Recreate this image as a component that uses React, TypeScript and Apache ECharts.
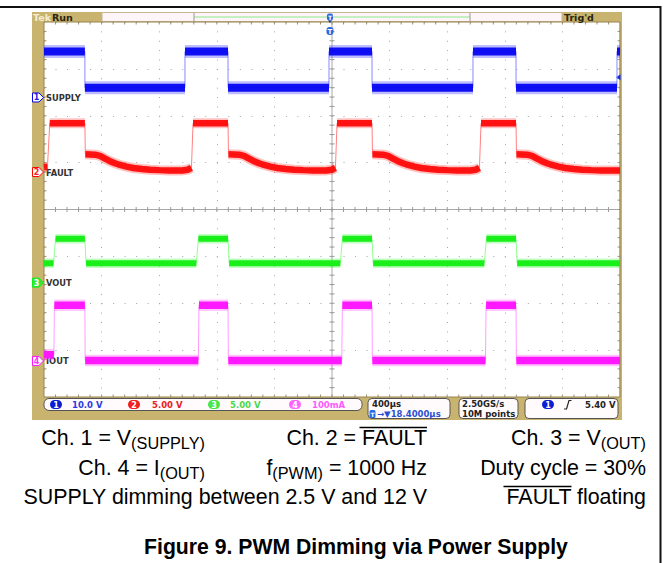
import React, { useEffect, useRef } from "react";
import * as echarts from "echarts";

// ---------- acquisition / screen settings ----------
const SCREEN_TIME_US = [0, 4000]; // 10 div x 400 µs
const TIME_DIV_US = 400;
const SCREEN_DIVS = [0, 8];
const CH_NAMES = ["SUPPLY", "FAULT", "VOUT", "IOUT"];
const CH_SCALE = [10, 5, 5, 100]; // V/div, V/div, V/div, mA/div
const CH_ZERO_DIV = [6.39, 4.8, 2.44, 0.77]; // ground markers (div from bottom)
const CH_SCALE_LABELS = ["10.0 V", "5.00 V", "5.00 V", "100mA"];
const TRIGGER_TIME_US = 1986;
const TRIGGER_MARK_V = 4.3;

// ---------- traces (time from left edge in µs) ----------
const supplyTimeUs = [0, 284, 284, 979, 979, 1278, 1278, 1979, 1979, 2278, 2278, 2979, 2979, 3278, 3278, 3979, 3979, 4000];
const supplyVolts = [9.8, 9.8, 2.1, 2.1, 9.8, 9.8, 2.1, 2.1, 9.8, 9.8, 2.1, 2.1, 9.8, 9.8, 2.1, 2.1, 9.8, 9.8];

const faultTimeUs = [
  0, 24, 40, 284, 287, 354, 389, 424, 458, 493, 528, 573, 620, 680, 736, 800, 870, 960, 1000, 1015, 1024, 1035,
  1278, 1281, 1354, 1389, 1424, 1458, 1493, 1528, 1573, 1620, 1680, 1736, 1800, 1870, 1960, 2000, 2015, 2024, 2035,
  2278, 2281, 2354, 2389, 2424, 2458, 2493, 2528, 2573, 2620, 2680, 2736, 2800, 2870, 2960, 3000, 3015, 3024, 3035,
  3278, 3281, 3354, 3389, 3424, 3458, 3493, 3528, 3573, 3620, 3680, 3736, 3800, 3870, 4000,
];
const faultVolts = [
  0.5, 0.55, 5.2, 5.2, 1.9, 1.85, 1.72, 1.42, 1.15, 0.93, 0.75, 0.57, 0.43, 0.32, 0.25, 0.2, 0.17, 0.17, 0.25, 0.38, 0.45, 5.2,
  5.2, 1.9, 1.85, 1.72, 1.42, 1.15, 0.93, 0.75, 0.57, 0.43, 0.32, 0.25, 0.2, 0.17, 0.17, 0.25, 0.38, 0.45, 5.2,
  5.2, 1.9, 1.85, 1.72, 1.42, 1.15, 0.93, 0.75, 0.57, 0.43, 0.32, 0.25, 0.2, 0.17, 0.17, 0.25, 0.38, 0.45, 5.2,
  5.2, 1.9, 1.85, 1.72, 1.42, 1.15, 0.93, 0.75, 0.57, 0.43, 0.32, 0.25, 0.2, 0.17, 0.17,
];

const voutTimeUs = [0, 66, 80, 284, 292, 1058, 1072, 1278, 1286, 2058, 2072, 2278, 2286, 3058, 3072, 3278, 3286, 4000];
const voutVolts = [2.07, 2.07, 4.68, 4.68, 2.07, 2.07, 4.68, 4.68, 2.07, 2.07, 4.68, 4.68, 2.07, 2.07, 4.68, 4.68, 2.07, 2.07];

const ioutTimeUs = [0, 69, 72, 284, 286, 1072, 1076, 1278, 1280, 2068, 2072, 2278, 2280, 3066, 3070, 3278, 3280, 4000];
const ioutMilliamps = [13, 13, 119, 119, 1, 1, 119, 119, 1, 1, 119, 119, 1, 1, 119, 119, 1, 1];

// ---------- styles ----------
const GRID = { left: 44, top: 22, width: 576, height: 375 };
const CH_STYLE = [
  { core: "#0505f2", fringe: "#4646ff", edge: "#8a8aff", coreW: 8, fringeW: 13, marker: "#ffffff", markerText: "#2020e0" },
  { core: "#ff0808", fringe: "#ff4a4a", edge: "#ff8080", coreW: 6.5, fringeW: 10, marker: "#ffffff", markerText: "#ff2020" },
  { core: "#12ee12", fringe: "#4cff4c", edge: "#90ff90", coreW: 6, fringeW: 9.5, marker: "#3ee03e", markerText: "#ffffff" },
  { core: "#ff10ff", fringe: "#ff5cff", edge: "#ff9cff", coreW: 7.5, fringeW: 11.5, marker: "#ffffff", markerText: "#ff30ff" },
];
const BADGE = ["#0a1ed2", "#f01e1e", "#46e646", "#ff64ff"];
const BADGE_TEXT = ["#2a3adf", "#e82020", "#4ad84a", "#ff5cff"];
const TAN = "#c8b46e";
const CAP_FONT = "'Liberation Sans', Arial, sans-serif";
const CAP_SIZE = 21.4;
const SCOPE_FONT = "'DejaVu Sans', sans-serif";

const PX_PER_US = GRID.width / (SCREEN_TIME_US[1] - SCREEN_TIME_US[0]);
const PX_PER_DIV = GRID.height / (SCREEN_DIVS[1] - SCREEN_DIVS[0]);

function toDivs(values: number[], ch: number) {
  return values.map((v) => CH_ZERO_DIV[ch] + v / CH_SCALE[ch]);
}
function fullPath(times: number[], divs: number[]) {
  return times.map((t, i) => [t, divs[i]]);
}
function bandPath(times: number[], divs: number[]) {
  const out: any[] = [];
  for (let i = 0; i < times.length; i++) {
    if (i > 0) {
      const dx = (times[i] - times[i - 1]) * PX_PER_US;
      const dy = Math.abs(divs[i] - divs[i - 1]) * PX_PER_DIV;
      if (dy > 2 * dx + 3) out.push([times[i], null]);
    }
    out.push([times[i], divs[i]]);
  }
  return out;
}

const TRACES = [
  { t: supplyTimeUs, v: supplyVolts },
  { t: faultTimeUs, v: faultVolts },
  { t: voutTimeUs, v: voutVolts },
  { t: ioutTimeUs, v: ioutMilliamps },
];

function graticule(params: any, api: any) {
  const [xl, yb] = api.coord([SCREEN_TIME_US[0], SCREEN_DIVS[0]]);
  const [xr, yt] = api.coord([SCREEN_TIME_US[1], SCREEN_DIVS[1]]);
  const [xc, yc] = api.coord([
    (SCREEN_TIME_US[0] + SCREEN_TIME_US[1]) / 2,
    (SCREEN_DIVS[0] + SCREEN_DIVS[1]) / 2,
  ]);
  const nx = ((SCREEN_TIME_US[1] - SCREEN_TIME_US[0]) / TIME_DIV_US) * 5;
  const ny = (SCREEN_DIVS[1] - SCREEN_DIVS[0]) * 5;
  const sx = (xr - xl) / nx;
  const sy = (yb - yt) / ny;
  const children: any[] = [];
  const L = (x1: number, y1: number, x2: number, y2: number, stroke: string, w = 1) =>
    children.push({ type: "line", shape: { x1, y1, x2, y2 }, style: { stroke, lineWidth: w } });
  L(xl, yc, xr, yc, "#a8a8a8");
  L(xc, yt, xc, yb, "#a8a8a8");
  for (let i = 1; i < nx; i++) {
    const x = xl + i * sx;
    L(x, yc - 2.5, x, yc + 2.5, "#9a9a9a");
    L(x, yt, x, yt + 2.5, "#a09070");
    L(x, yb - 2.5, x, yb, "#a09070");
  }
  for (let j = 1; j < ny; j++) {
    const y = yt + j * sy;
    L(xc - 2.5, y, xc + 2.5, y, "#9a9a9a");
    L(xl, y, xl + 2.5, y, "#a09070");
    L(xr - 2.5, y, xr, y, "#a09070");
  }
  children.push({ type: "rect", shape: { x: xl, y: yt, width: xr - xl, height: yb - yt }, style: { fill: "none", stroke: "#9a8450", lineWidth: 1 } });
  CH_NAMES.forEach((name, k) => {
    const y = api.coord([0, CH_ZERO_DIV[k]])[1];
    children.push({
      type: "polygon",
      shape: { points: [[xl - 11.5, y - 4.5], [xl - 5, y - 4.5], [xl - 0.5, y], [xl - 5, y + 4.5], [xl - 11.5, y + 4.5]] },
      style: { fill: CH_STYLE[k].marker, stroke: CH_STYLE[k].core, lineWidth: 1 },
    });
    children.push({
      type: "text",
      style: { text: String(k + 1), x: xl - 7.5, y: y + 0.5, fill: CH_STYLE[k].markerText, font: `bold 8px ${SCOPE_FONT}`, align: "center", verticalAlign: "middle" },
    });
    children.push({
      type: "text",
      style: { text: name, x: xl + 2, y: y + 0.5, fill: "#333333", font: `bold 8.3px ${SCOPE_FONT}`, align: "left", verticalAlign: "middle" },
    });
  });
  const tx = api.coord([TRIGGER_TIME_US, 0])[0];
  children.push({ type: "rect", shape: { x: tx - 3, y: yt - 8.5, width: 6, height: 7, r: 2 }, style: { fill: "#2a6ae0" } });
  children.push({ type: "polygon", shape: { points: [[tx - 2, yt - 1.5], [tx + 2, yt - 1.5], [tx, yt + 1]] }, style: { fill: "#1a3a90" } });
  children.push({ type: "rect", shape: { x: tx - 3.5, y: yt + 5, width: 7, height: 8, r: 3 }, style: { fill: "#2a6ae0" } });
  children.push({ type: "text", style: { text: "T", x: tx, y: yt + 9.5, fill: "#ffffff", font: `bold 7px ${SCOPE_FONT}`, align: "center", verticalAlign: "middle" } });
  children.push({ type: "text", style: { text: "T", x: tx, y: yt - 4.8, fill: "#ffffff", font: `bold 6px ${SCOPE_FONT}`, align: "center", verticalAlign: "middle" } });
  const ty = api.coord([0, CH_ZERO_DIV[0] + TRIGGER_MARK_V / CH_SCALE[0]])[1];
  children.push({ type: "polygon", shape: { points: [[xr - 4, ty], [xr + 0.5, ty - 3], [xr + 0.5, ty + 3]] }, style: { fill: "#1030e0" } });
  return { type: "group", children };
}

function buildOption() {
  const series: any[] = [
    {
      type: "custom",
      coordinateSystem: "cartesian2d",
      renderItem: graticule,
      data: [[0, 0]],
      silent: true,
      z: 1,
      clip: false,
    },
  ];
  TRACES.forEach((tr, k) => {
    const divs = toDivs(tr.v, k);
    const st = CH_STYLE[k];
    series.push({
      type: "line",
      data: fullPath(tr.t, divs),
      showSymbol: false,
      silent: true,
      z: 2,
      lineStyle: { color: st.edge, width: 1 },
    });
    series.push({
      type: "line",
      data: bandPath(tr.t, divs),
      showSymbol: false,
      silent: true,
      connectNulls: false,
      z: 3,
      lineStyle: { color: st.fringe, width: st.fringeW, opacity: 0.35, cap: "butt", join: "round" },
    });
    series.push({
      type: "line",
      data: bandPath(tr.t, divs),
      showSymbol: false,
      silent: true,
      connectNulls: false,
      z: 4,
      lineStyle: { color: st.core, width: st.coreW, opacity: 0.95, cap: "butt", join: "round" },
    });
  });

  const rich = {
    a: { fontSize: CAP_SIZE, fontFamily: CAP_FONT, fill: "#000000", lineHeight: 26, verticalAlign: "middle" },
    s: { fontSize: 16.3, fontFamily: CAP_FONT, fill: "#000000", lineHeight: 14, verticalAlign: "bottom" },
  };
  const cap = (text: string, x: number, y: number, align = "right") => ({
    type: "text",
    x,
    y,
    z: 10,
    style: { text, rich, align, verticalAlign: "middle", font: `${CAP_SIZE}px ${CAP_FONT}`, fill: "#000" },
  });
  const sText = (text: string, x: number, y: number, fill = "#222222", size = 8.5, bold = true) => ({
    type: "text",
    x,
    y,
    z: 12,
    style: { text, fill, font: `${bold ? "bold " : ""}${size}px ${SCOPE_FONT}`, align: "left", verticalAlign: "middle" },
  });
  const badge = (cx: number, cy: number, k: number, label: string) => [
    { type: "rect", z: 12, shape: { x: cx - 6, y: cy - 4.5, width: 12, height: 9, r: 4.5 }, style: { fill: BADGE[k] } },
    { type: "text", z: 13, x: cx, y: cy + 0.5, style: { text: label, fill: "#ffffff", font: `bold 8px ${SCOPE_FONT}`, align: "center", verticalAlign: "middle" } },
  ];

  const graphic: any[] = [
    { type: "line", z: 20, shape: { x1: 0, y1: 7, x2: 661, y2: 7 }, style: { stroke: "#111", lineWidth: 2 } },
    { type: "line", z: 20, shape: { x1: 660.5, y1: 6, x2: 660.5, y2: 563 }, style: { stroke: "#111", lineWidth: 2 } },
    { type: "rect", z: 0, shape: { x: 32, y: 12, width: 12, height: 408 }, style: { fill: TAN } },
    { type: "rect", z: 0, shape: { x: 619.5, y: 12, width: 2.5, height: 408 }, style: { fill: TAN } },
    { type: "rect", z: 0, shape: { x: 32, y: 397, width: 590, height: 23 }, style: { fill: TAN } },
    { type: "rect", z: 0, shape: { x: 32, y: 12, width: 70, height: 10 }, style: { fill: TAN } },
    { type: "rect", z: 0, shape: { x: 562, y: 12, width: 60, height: 10 }, style: { fill: TAN } },
    { type: "rect", z: 0, shape: { x: 102, y: 12.5, width: 460, height: 9 }, style: { fill: "#fdf5f8", stroke: "#c4b595", lineWidth: 1 } },
    { type: "line", z: 1, shape: { x1: 194, y1: 17, x2: 470, y2: 17 }, style: { stroke: "#8de88d", lineWidth: 1 } },
    { type: "line", z: 1, shape: { x1: 194, y1: 13, x2: 194, y2: 21 }, style: { stroke: "#999", lineWidth: 1 } },
    { type: "line", z: 1, shape: { x1: 470, y1: 13, x2: 470, y2: 21 }, style: { stroke: "#999", lineWidth: 1 } },
    sText("Tek", 33, 17.3, "#f4ecd4", 9.5),
    sText("Run", 52, 17.3, "#2a2410", 9.5),
    sText("Trig'd", 564, 17.3, "#2a2410", 9.5),
    { type: "rect", z: 11, shape: { x: 44, y: 398.5, width: 318, height: 12, r: 5 }, style: { fill: "#fffbfd", stroke: "#555", lineWidth: 1 } },
    { type: "rect", z: 11, shape: { x: 368, y: 398.5, width: 82, height: 20, r: 4 }, style: { fill: "#fffbfd", stroke: "#555", lineWidth: 1 } },
    { type: "rect", z: 11, shape: { x: 459, y: 398.5, width: 59, height: 20, r: 4 }, style: { fill: "#fffbfd", stroke: "#555", lineWidth: 1 } },
    { type: "rect", z: 11, shape: { x: 525, y: 398.5, width: 93, height: 20, r: 4 }, style: { fill: "#fffbfd", stroke: "#555", lineWidth: 1 } },
    ...badge(56, 404.5, 0, "1"),
    sText(CH_SCALE_LABELS[0], 72, 404.8, BADGE_TEXT[0]),
    ...badge(134, 404.5, 1, "2"),
    sText(CH_SCALE_LABELS[1], 152, 404.8, BADGE_TEXT[1]),
    ...badge(214, 404.5, 2, "3"),
    sText(CH_SCALE_LABELS[2], 230, 404.8, BADGE_TEXT[2]),
    ...badge(295, 404.5, 3, "4"),
    sText(CH_SCALE_LABELS[3], 312, 404.8, BADGE_TEXT[3]),
    sText("400µs", 372, 404.2, "#222", 8.5),
    { type: "rect", z: 12, shape: { x: 369.5, y: 410, width: 6, height: 8, r: 1.5 }, style: { fill: "#2a6ae0" } },
    { type: "text", z: 13, x: 372.5, y: 414.3, style: { text: "T", fill: "#fff", font: `bold 6px ${SCOPE_FONT}`, align: "center", verticalAlign: "middle" } },
    sText("→▼18.4000µs", 377, 414.3, "#2a50d0", 8.5),
    sText("2.50GS/s", 462, 404.2, "#222", 8.5),
    sText("10M points", 462, 414.3, "#222", 8.5),
    ...badge(548, 404.5, 0, "1"),
    { type: "polyline", z: 12, shape: { points: [[564, 409], [566.5, 409], [569, 400.5], [571.5, 400.5]] }, style: { stroke: "#222", lineWidth: 1.2, fill: "none" } },
    sText("5.40 V", 585, 404.5, "#222", 8.5),
    cap("{a|Ch. 1 = V}{s|(SUPPLY)}", 205, 438),
    cap("{a|Ch. 2 = FAULT}", 427, 438),
    cap("{a|Ch. 3 = V}{s|(OUT)}", 646, 438),
    cap("{a|Ch. 4 = I}{s|(OUT)}", 205, 468),
    cap("{a|f}{s|(PWM)}{a| = 1000 Hz}", 427, 468),
    cap("{a|Duty cycle = 30%}", 646, 468),
    cap("{a|SUPPLY dimming between 2.5 V and 12 V}", 427, 497),
    cap("{a|FAULT floating}", 646, 497),
    { type: "line", z: 10, shape: { x1: 359.5, y1: 427.5, x2: 427, y2: 427.5 }, style: { stroke: "#000", lineWidth: 1.5 } },
    { type: "line", z: 10, shape: { x1: 503.5, y1: 486.5, x2: 571.5, y2: 486.5 }, style: { stroke: "#000", lineWidth: 1.5 } },
    {
      type: "text",
      x: 356,
      y: 546,
      z: 10,
      style: { text: "Figure 9. PWM Dimming via Power Supply", fill: "#000", font: `bold 21.2px ${CAP_FONT}`, align: "center", verticalAlign: "middle" },
    },
  ];

  return {
    animation: false,
    backgroundColor: "#ffffff",
    grid: { ...GRID, containLabel: false },
    xAxis: {
      type: "value",
      min: SCREEN_TIME_US[0],
      max: SCREEN_TIME_US[1],
      interval: TIME_DIV_US,
      axisLine: { show: false },
      axisTick: { show: false },
      axisLabel: { show: false },
      splitLine: { show: true, lineStyle: { color: "#a4a4a4", width: 1, type: [1, PX_PER_DIV / 5 - 1] } },
    },
    yAxis: {
      type: "value",
      min: SCREEN_DIVS[0],
      max: SCREEN_DIVS[1],
      interval: 1,
      axisLine: { show: false },
      axisTick: { show: false },
      axisLabel: { show: false },
      splitLine: { show: true, lineStyle: { color: "#a4a4a4", width: 1, type: [1, (TIME_DIV_US * PX_PER_US) / 5 - 1] } },
    },
    series,
    graphic,
  };
}

export default function App() {
  const ref = useRef<HTMLDivElement>(null);
  useEffect(() => {
    if (!ref.current) return;
    const chart = echarts.init(ref.current, null, { renderer: "svg" });
    chart.setOption(buildOption() as any);
    return () => chart.dispose();
  }, []);
  return <div ref={ref} style={{ position: "absolute", left: 0, top: 0, width: 665, height: 563 }} />;
}
